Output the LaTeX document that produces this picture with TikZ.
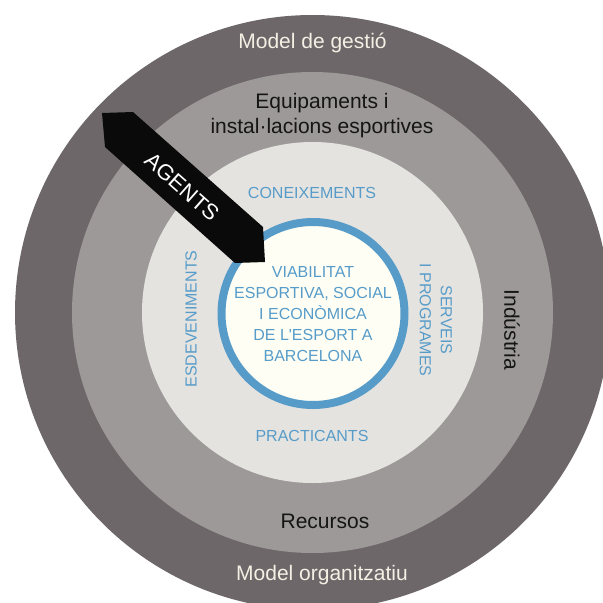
\documentclass[tikz,border=0pt]{standalone}
\usepackage{fontspec}
\setmainfont{Liberation Sans}[Ligatures=TeXOff]
\definecolor{ringdark}{HTML}{6D676A}
\definecolor{ringmid}{HTML}{9D9998}
\definecolor{ringlight}{HTML}{E4E3E0}
\definecolor{ringblue}{HTML}{579CC9}
\definecolor{corefill}{HTML}{FEFEF4}
\definecolor{cream}{HTML}{F3F0E4}
\definecolor{ink}{HTML}{151515}
\definecolor{agentblack}{HTML}{0A0A0A}
\tikzset{
  outerlabel/.style={text=cream, font=\fontsize{21}{25}\selectfont, inner sep=0pt, align=center},
  midlabel/.style={text=ink, font=\fontsize{21}{25}\selectfont, inner sep=0pt, align=center},
  bluelabel/.style={text=ringblue, font=\fontsize{16}{21}\selectfont, inner sep=0pt, align=center},
  agentlabel/.style={text=white, font=\fontsize{22}{26}\selectfont, inner sep=0pt},
}
\begin{document}
\begin{tikzpicture}[x=1pt,y=-1pt]
\useasboundingbox (0,0) rectangle (603,603);
\clip (0,0) rectangle (603,603);
\coordinate (c) at (312.5,312.5);
% concentric rings
\fill[ringdark] (c) circle[radius=297.5pt];
\fill[ringmid] (c) circle[radius=240.5pt];
\fill[ringlight] (c) circle[radius=170.5pt];
\filldraw[fill=corefill, draw=ringblue, line width=8pt] (313,313.5) circle[radius=91.5pt];
% the AGENTS band pointing into the core
\fill[agentblack] (102,113) -- (133,112) -- (263,227) -- (265,262) -- (235,263) -- (105,147) -- cycle;
\node[agentlabel, rotate=-41.5] (agents) at (182,187) {AGENTS};
% outer ring labels
\node[outerlabel] (gestio) at (312.5,43) {Model de gestió};
\node[outerlabel] (organitzatiu) at (322,575) {Model organitzatiu};
% middle ring labels
\node[midlabel] (equipaments) at (322,116) {Equipaments i\\instal·lacions esportives};
\node[midlabel] (recursos) at (325,521) {Recursos};
\node[midlabel, rotate=-90] (industria) at (512,330) {Indústria};
% inner ring labels
\node[bluelabel] (coneixements) at (312,193) {CONEIXEMENTS};
\node[bluelabel] (practicants) at (312,436) {PRACTICANTS};
\node[bluelabel, rotate=90] (esdeveniments) at (191,319) {ESDEVENIMENTS};
\node[bluelabel, rotate=-90] (serveis) at (436,320) {SERVEIS\\I PROGRAMES};
% core
\node[bluelabel] (core) at (313,314) {VIABILITAT\\ESPORTIVA, SOCIAL\\I ECONÒMICA\\DE L'ESPORT A\\BARCELONA};
\end{tikzpicture}
\end{document}
